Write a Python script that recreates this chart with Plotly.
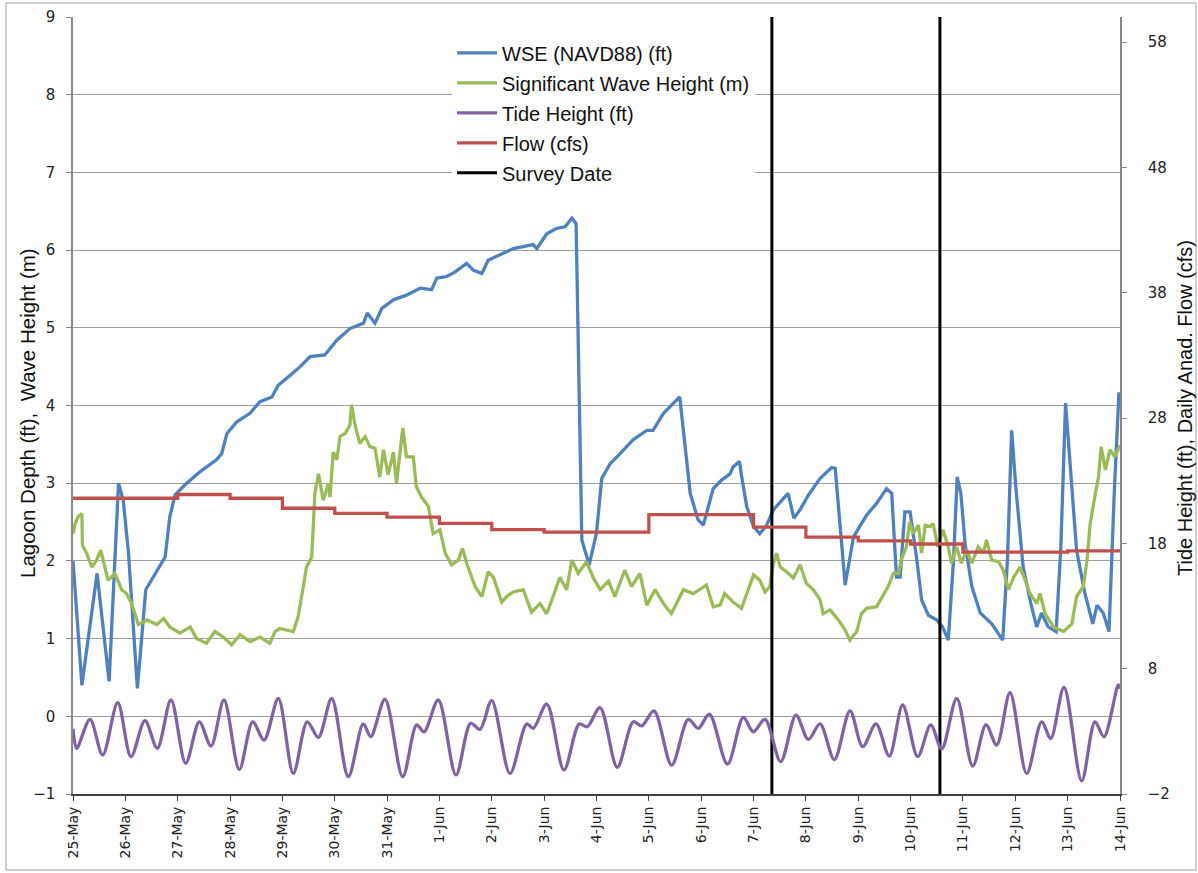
import pandas as pd
import plotly.graph_objects as go

BASE = pd.Timestamp("2013-05-25")

# ---- WSE (NAVD88) (ft): day offset from 25-May, value ----
wse_day = [0.00, 0.17, 0.46, 0.69, 0.87, 0.96, 1.06, 1.23, 1.39, 1.47, 1.63, 1.76, 1.85, 1.95, 2.14, 2.43,
           2.74, 2.84, 2.94, 3.13, 3.38, 3.57, 3.80, 3.92, 4.15, 4.34, 4.53, 4.81, 5.04, 5.29, 5.55, 5.62,
           5.77, 5.90, 6.12, 6.37, 6.63, 6.85, 6.95, 7.14, 7.30, 7.52, 7.65, 7.81, 7.93, 8.16, 8.41, 8.79,
           8.86, 9.05, 9.24, 9.40, 9.53, 9.61, 9.66, 9.72, 9.86, 10.00, 10.10, 10.26, 10.45, 10.70, 10.96,
           11.08, 11.28, 11.47, 11.59, 11.79, 11.94, 12.04, 12.14, 12.23, 12.39, 12.55, 12.61, 12.73, 12.77,
           12.87, 13.00, 13.12, 13.25, 13.38, 13.54, 13.66, 13.77, 13.89, 14.05, 14.27, 14.49, 14.56, 14.75,
           14.91, 15.16, 15.35, 15.54, 15.64, 15.73, 15.80, 15.89, 15.99, 16.12, 16.21, 16.34, 16.50, 16.61,
           16.72, 16.82, 16.89, 16.96, 17.04, 17.17, 17.33, 17.55, 17.76, 17.85, 17.93, 18.01, 18.15, 18.31,
           18.41, 18.50, 18.63, 18.78, 18.87, 18.96, 19.04, 19.17, 19.33, 19.48, 19.56, 19.68, 19.79, 19.89,
           19.98]
wse_val = [2.00, 0.40, 1.84, 0.45, 3.00, 2.78, 2.10, 0.36, 1.63, 1.72, 1.90, 2.05, 2.57, 2.85, 2.98, 3.15,
           3.30, 3.38, 3.64, 3.79, 3.90, 4.05, 4.11, 4.26, 4.39, 4.50, 4.63, 4.65, 4.84, 4.99, 5.06, 5.19,
           5.06, 5.25, 5.36, 5.42, 5.51, 5.49, 5.64, 5.66, 5.72, 5.83, 5.74, 5.70, 5.87, 5.94, 6.02, 6.07,
           6.02, 6.21, 6.28, 6.30, 6.41, 6.34, 4.50, 2.27, 1.95, 2.36, 3.06, 3.25, 3.38, 3.56, 3.68,
           3.68, 3.90, 4.03, 4.11, 2.87, 2.53, 2.46, 2.70, 2.93, 3.04, 3.12, 3.21, 3.28, 3.10,
           2.70, 2.44, 2.35, 2.46, 2.66, 2.78, 2.87, 2.55, 2.66, 2.85, 3.06, 3.20, 3.19, 1.69,
           2.31, 2.59, 2.74, 2.93, 2.87, 1.79, 1.79, 2.63, 2.63, 2.01, 1.50, 1.30, 1.24, 1.15,
           0.98, 2.01, 3.08, 2.87, 2.23, 1.67, 1.33, 1.19, 0.98, 2.01, 3.68, 2.95, 1.92, 1.41,
           1.15, 1.33, 1.15, 1.09, 2.18, 4.03, 3.30, 2.14, 1.58, 1.19, 1.43, 1.33, 1.09, 2.87,
           4.17]

# ---- Significant Wave Height (m) ----
wave_day = [0.00, 0.04, 0.10, 0.17, 0.18, 0.26, 0.36, 0.45, 0.53, 0.58, 0.67, 0.80, 0.93, 1.02, 1.12, 1.25,
            1.41, 1.60, 1.73, 1.85, 2.04, 2.24, 2.36, 2.55, 2.71, 2.87, 3.03, 3.19, 3.38, 3.57, 3.76, 3.86,
            3.95, 4.21, 4.30, 4.40, 4.46, 4.56, 4.59, 4.62, 4.69, 4.78, 4.88, 4.91, 4.97, 5.04, 5.10, 5.20,
            5.29, 5.32, 5.39, 5.48, 5.58, 5.67, 5.77, 5.86, 5.93, 6.02, 6.12, 6.18, 6.30, 6.37, 6.50, 6.56,
            6.66, 6.79, 6.88, 7.01, 7.11, 7.23, 7.36, 7.44, 7.52, 7.68, 7.81, 7.93, 8.03, 8.19, 8.30, 8.41,
            8.60, 8.76, 8.92, 9.05, 9.17, 9.30, 9.43, 9.53, 9.65, 9.81, 9.94, 10.07, 10.23, 10.35, 10.54,
            10.67, 10.83, 10.96, 11.12, 11.28, 11.43, 11.66, 11.85, 12.10, 12.23, 12.36, 12.45, 12.61, 12.77,
            12.87, 13.00, 13.12, 13.22, 13.31, 13.38, 13.44, 13.51, 13.63, 13.76, 13.89, 14.01, 14.14, 14.27,
            14.33, 14.46, 14.62, 14.75, 14.84, 14.97, 15.06, 15.16, 15.35, 15.48, 15.57, 15.67, 15.77, 15.82,
            15.92, 15.98, 16.05, 16.15, 16.21, 16.28, 16.37, 16.43, 16.52, 16.62, 16.72, 16.78, 16.88, 16.97,
            17.07, 17.17, 17.29, 17.39, 17.45, 17.55, 17.68, 17.77, 17.87, 17.97, 18.09, 18.19, 18.28, 18.41,
            18.47, 18.57, 18.73, 18.92, 19.08, 19.17, 19.30, 19.37, 19.43, 19.53, 19.59, 19.64, 19.72, 19.81,
            19.90, 20.00]
wave_val = [2.35, 2.48, 2.57, 2.61, 2.20, 2.10, 1.92, 2.01, 2.14, 1.99, 1.75, 1.84, 1.63, 1.58, 1.45, 1.18,
            1.24, 1.18, 1.26, 1.15, 1.07, 1.15, 1.00, 0.94, 1.09, 1.02, 0.92, 1.05, 0.96, 1.02, 0.94, 1.09,
            1.13, 1.09, 1.28, 1.67, 1.92, 2.05, 2.57, 2.87, 3.12, 2.78, 3.00, 2.82, 3.40, 3.30, 3.60, 3.64,
            3.75, 4.01, 3.74, 3.51, 3.60, 3.47, 3.45, 3.08, 3.43, 3.11, 3.40, 3.00, 3.71, 3.34, 3.34, 2.95,
            2.82, 2.70, 2.35, 2.40, 2.10, 1.95, 2.01, 2.16, 1.97, 1.67, 1.54, 1.86, 1.79, 1.47, 1.55, 1.60,
            1.63, 1.34, 1.45, 1.32, 1.54, 1.79, 1.63, 2.01, 1.84, 1.99, 1.78, 1.63, 1.74, 1.54, 1.88,
            1.67, 1.84, 1.43, 1.63, 1.45, 1.32, 1.63, 1.58, 1.69, 1.41, 1.43, 1.58, 1.47, 1.39,
            1.58, 1.82, 1.75, 1.60, 1.67, 1.97, 2.10, 1.92, 1.86, 1.78, 1.95, 1.71, 1.63, 1.50,
            1.32, 1.37, 1.24, 1.11, 0.98, 1.09, 1.32, 1.39, 1.41, 1.56, 1.67, 1.84, 1.84, 2.01,
            2.18, 2.50, 2.35, 2.46, 2.10, 2.46, 2.44, 2.48, 2.18, 2.40, 2.18, 1.97, 2.18, 1.97,
            2.14, 1.97, 2.18, 2.10, 2.27, 2.01, 1.99, 1.88, 1.63, 1.79, 1.92, 1.75, 1.58, 1.45,
            1.58, 1.32, 1.15, 1.09, 1.19, 1.54, 1.67, 2.01, 2.48, 2.87, 3.08, 3.47, 3.17, 3.43,
            3.34, 3.49]

# ---- Tide Height (ft): turning points (secondary axis) ----
tide_day = [0.00, 0.07, 0.325, 0.567, 0.854, 1.108, 1.375, 1.610, 1.872, 2.153, 2.413, 2.636, 2.884, 3.177,
            3.433, 3.649, 3.922, 4.208, 4.476, 4.686, 4.942, 5.259, 5.545, 5.687, 5.960, 6.298, 6.565, 6.705,
            6.978, 7.316, 7.597, 7.775, 7.998, 8.348, 8.667, 8.793, 9.049, 9.379, 9.671, 9.824, 10.067,
            10.397, 10.703, 10.863, 11.098, 11.436, 11.753, 11.945, 12.155, 12.502, 12.804, 12.995, 13.219,
            13.518, 13.811, 14.046, 14.270, 14.543, 14.842, 15.085, 15.339, 15.593, 15.849, 16.136, 16.384,
            16.594, 16.881, 17.187, 17.440, 17.645, 17.899, 18.218, 18.504, 18.676, 18.930, 19.268, 19.522,
            19.694, 19.967, 20.00]
tide_val = [3.2, 1.65, 3.96, 1.11, 5.29, 0.98, 3.85, 1.65, 5.50, 0.45, 3.76, 1.83, 5.50, -0.04,
            3.76, 2.31, 5.62, -0.36, 3.76, 2.52, 5.62, -0.62, 3.59, 2.57, 5.56, -0.62, 3.51, 2.96,
            5.50, -0.48, 3.64, 3.16, 5.45, -0.36, 3.59, 3.24, 5.18, -0.08, 3.59, 3.37, 4.90,
            0.13, 3.76, 3.43, 4.64, 0.31, 3.96, 3.24, 4.38, 0.38, 4.12, 2.96, 3.96,
            0.58, 4.30, 2.36, 3.59, 0.75, 4.64, 1.78, 3.59, 1.03, 5.10, 0.98, 3.51,
            1.60, 5.62, 0.23, 3.51, 1.91, 6.08, -0.36, 3.76, 2.43, 6.50, -0.94, 3.76,
            2.57, 6.70, 6.40]

# ---- Daily Anad. Flow (cfs), one value per day 25-May .. 13-Jun (last repeated to 14-Jun) ----
flow_day = list(range(0, 21))
flow_val = [21.6, 21.6, 21.9, 21.6, 20.8, 20.4, 20.1, 19.6, 19.1, 18.9, 18.9, 20.3, 20.3, 19.3, 18.5,
            18.2, 17.95, 17.3, 17.3, 17.4, 17.4]

# ---- Survey dates ----
survey_day = [13.35, 16.56]


def to_time(days):
    return [BASE + pd.Timedelta(days=float(d)) for d in days]


BLUE = "#4F81BD"
GREEN = "#9BBB59"
PURPLE = "#8064A2"
RED = "#C0504D"
LW = 3.3

fig = go.Figure()
fig.add_trace(go.Scatter(x=to_time(wse_day), y=wse_val, mode="lines", name="WSE (NAVD88) (ft)",
                         line=dict(color=BLUE, width=LW), legendgroup="a"))
fig.add_trace(go.Scatter(x=to_time(wave_day), y=wave_val, mode="lines", name="Significant Wave Height (m)",
                         line=dict(color=GREEN, width=LW), legendgroup="b"))
fig.add_trace(go.Scatter(x=to_time(tide_day), y=tide_val, mode="lines", name="Tide Height (ft)",
                         line=dict(color=PURPLE, width=LW, shape="spline", smoothing=0.9),
                         yaxis="y2", legendgroup="c"))
fig.add_trace(go.Scatter(x=to_time(flow_day), y=flow_val, mode="lines", name="Flow (cfs)",
                         line=dict(color=RED, width=LW, shape="hv"), yaxis="y2", legendgroup="d"))
sx, sy = [], []
for d in survey_day:
    t = BASE + pd.Timedelta(days=d)
    sx += [t, t, None]
    sy += [-1, 9, None]
fig.add_trace(go.Scatter(x=sx, y=sy, mode="lines", name="Survey Date",
                         line=dict(color="#000000", width=3), legendgroup="e"))

ytick_font = dict(family="DejaVu Sans", size=15, color="#222222")
xtick_font = dict(family="DejaVu Sans", size=14, color="#222222")
title_font = dict(family="Liberation Sans, Arial", size=20.5, color="#111111")
fig.update_layout(
    width=1198, height=873,
    margin=dict(l=73, r=78, t=17, b=79),
    paper_bgcolor="white", plot_bgcolor="white",
    font=dict(family="Liberation Sans, Arial", size=16, color="#111111"),
    showlegend=True,
    legend=dict(x=0.362, y=0.979, xanchor="left", yanchor="top", bgcolor="white",
                font=dict(family="Liberation Sans, Arial", size=20, color="#111111"),
                tracegroupgap=1, itemwidth=40),
    xaxis=dict(type="date", range=[BASE, BASE + pd.Timedelta(days=20)], dtick=86400000,
               tickformat="%-d-%b", tickangle=-90, ticks="outside", ticklen=5, tickcolor="#404040",
               showline=True, linecolor="#404040", linewidth=2, showgrid=False, zeroline=False,
               tickfont=xtick_font, automargin=False),
    yaxis=dict(range=[-1, 9], dtick=1, ticks="outside", ticklen=5, tickcolor="#888888",
               showline=True, linecolor="#888888", linewidth=1.5, showgrid=True, gridcolor="#A0A0A0",
               gridwidth=1.2, zeroline=False, tickfont=ytick_font, ticklabelstandoff=8, automargin=False),
    yaxis2=dict(range=[-2, 60], tickvals=[-2, 8, 18, 28, 38, 48, 58], overlaying="y", side="right",
                ticks="outside", ticklen=5, tickcolor="#888888", showline=True, linecolor="#888888",
                linewidth=1.5, showgrid=False, zeroline=False, tickfont=ytick_font, ticklabelstandoff=18,
                automargin=False),
)
fig.add_annotation(text="Lagoon Depth (ft),  Wave Height (m)", textangle=-90, showarrow=False,
                   xref="paper", yref="paper", x=(27 - 73) / 1047, y=(794 - 413) / 777,
                   xanchor="center", yanchor="middle", font=title_font)
fig.add_annotation(text="Tide Height (ft), Daily Anad. Flow (cfs)", textangle=-90, showarrow=False,
                   xref="paper", yref="paper", x=(1185 - 73) / 1047, y=(794 - 408) / 777,
                   xanchor="center", yanchor="middle",
                   font=dict(family="Liberation Sans, Arial", size=20, color="#111111"))
fig.add_shape(type="rect", xref="paper", yref="paper",
              x0=(6 - 73) / 1047, x1=(1196 - 73) / 1047, y0=(794 - 870) / 777, y1=(794 - 3) / 777,
              line=dict(color="#A0A0A0", width=1), layer="below")

fig.write_html("out.html")
